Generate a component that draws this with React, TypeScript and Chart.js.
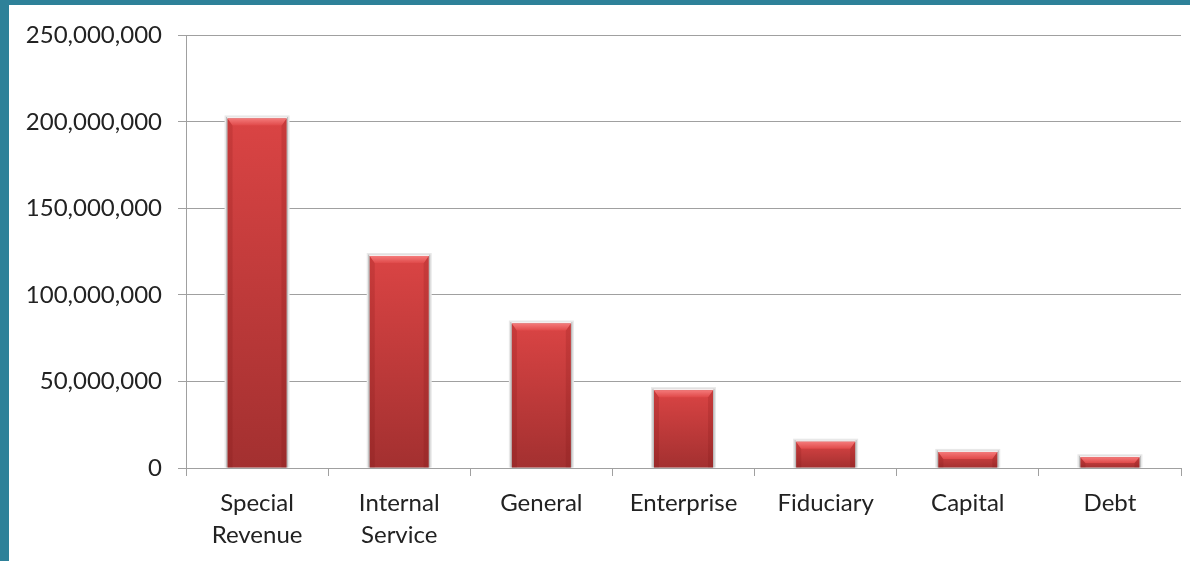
import React, { useEffect, useRef } from "react";
import { Chart, registerables } from "chart.js";

Chart.register(...registerables);

// Fund categories (multi-line labels as arrays)
const categories: (string | string[])[] = [
  ["Special", "Revenue"],
  ["Internal", "Service"],
  "General",
  "Enterprise",
  "Fiduciary",
  "Capital",
  "Debt",
];

// Amount per fund
const amounts: number[] = [202000000, 122500000, 83500000, 45000000, 15200000, 9300000, 6200000];

// Value axis
const axisMin = 0;
const axisMax = 250000000;
const axisStep = 50000000;

const FRAME = "#2e8199";
const FONT = "Lato, 'Open Sans', sans-serif";
const TEXT = "#222222";

// Draws the raised "bevel" look around each bar: a grey halo behind,
// a lighter chamfered top face and darker side faces on top.
const bevelPlugin = {
  id: "bevel",
  beforeDatasetsDraw(chart: any) {
    const ctx = chart.ctx;
    chart.getDatasetMeta(0).data.forEach((bar: any) => {
      const { x, y, base, width } = bar.getProps(["x", "y", "base", "width"], true);
      const l = x - width / 2;
      ctx.save();
      ctx.fillStyle = "#e8e8e8";
      ctx.fillRect(l - 3, y - 3, width + 6, base - y + 3);
      ctx.fillStyle = "#bdbdbd";
      ctx.fillRect(l - 1.5, y - 1.5, width + 3, base - y + 1.5);
      ctx.fillStyle = "#f6eeee";
      ctx.fillRect(l - 0.5, y - 1.5, width + 1, 1.5);
      ctx.restore();
    });
  },
  afterDatasetsDraw(chart: any) {
    const ctx = chart.ctx;
    chart.getDatasetMeta(0).data.forEach((bar: any) => {
      const { x, y, base, width } = bar.getProps(["x", "y", "base", "width"], true);
      const l = x - width / 2;
      const r = x + width / 2;
      const h = base - y;
      const b = Math.min(7, h * 0.55);
      const s = Math.min(5, b);
      ctx.save();
      // side faces
      ctx.fillStyle = "rgba(110, 15, 15, 0.16)";
      ctx.beginPath();
      ctx.moveTo(l, y);
      ctx.lineTo(l + s, y + b);
      ctx.lineTo(l + s, base);
      ctx.lineTo(l, base);
      ctx.closePath();
      ctx.fill();
      ctx.beginPath();
      ctx.moveTo(r, y);
      ctx.lineTo(r - s, y + b);
      ctx.lineTo(r - s, base);
      ctx.lineTo(r, base);
      ctx.closePath();
      ctx.fill();
      // top face
      const g = ctx.createLinearGradient(0, y, 0, y + b);
      g.addColorStop(0, "#f47a7a");
      g.addColorStop(1, "#e04a4a");
      ctx.fillStyle = g;
      ctx.beginPath();
      ctx.moveTo(l, y);
      ctx.lineTo(r, y);
      ctx.lineTo(r - s, y + b);
      ctx.lineTo(l + s, y + b);
      ctx.closePath();
      ctx.fill();
      ctx.restore();
    });
  },
};

export default function App() {
  const canvasRef = useRef<HTMLCanvasElement | null>(null);

  useEffect(() => {
    const canvas = canvasRef.current;
    if (!canvas) return;

    const chart = new Chart(canvas, {
      type: "bar",
      data: {
        labels: categories,
        datasets: [
          {
            data: amounts,
            barPercentage: 0.415,
            categoryPercentage: 1,
            borderWidth: 0,
            backgroundColor: (c: any) => {
              const ch = c.chart;
              const yScale = ch.scales && ch.scales.y;
              if (!yScale || c.raw == null) return "#c83c3c";
              const top = yScale.getPixelForValue(c.raw);
              const bottom = yScale.getPixelForValue(0);
              if (!isFinite(top) || !isFinite(bottom) || bottom - top < 1) return "#c83c3c";
              const g = ch.ctx.createLinearGradient(0, top, 0, bottom);
              g.addColorStop(0, "#da4444");
              g.addColorStop(1, "#a33030");
              return g;
            },
          },
        ],
      },
      options: {
        responsive: false,
        animation: false,
        layout: { padding: { top: 30, right: 9, left: 0, bottom: 0 } },
        plugins: {
          legend: { display: false },
          tooltip: { enabled: false },
        },
        scales: {
          x: {
            offset: true,
            grid: {
              display: true,
              offset: true,
              drawOnChartArea: false,
              drawTicks: true,
              tickLength: 8,
              color: "#a0a0a0",
            },
            border: { display: true, color: "#a0a0a0", width: 1 },
            ticks: {
              color: TEXT,
              font: { family: FONT, size: 24, lineHeight: 1.33 },
              padding: 11,
              maxRotation: 0,
              autoSkip: false,
            },
            afterFit: (scale: any) => {
              scale.height = 93;
            },
          },
          y: {
            min: axisMin,
            max: axisMax,
            grid: {
              color: "#a0a0a0",
              tickLength: 8,
              drawTicks: true,
            },
            border: { display: true, color: "#a0a0a0", width: 1 },
            ticks: {
              stepSize: axisStep,
              color: TEXT,
              font: { family: FONT, size: 24 },
              padding: 16,
              callback: (v: any) => Number(v).toLocaleString("en-US"),
            },
            afterFit: (scale: any) => {
              scale.width = 177;
            },
          },
        },
      },
      plugins: [bevelPlugin],
    });

    return () => chart.destroy();
  }, []);

  return (
    <div
      style={{
        position: "fixed",
        left: 0,
        top: 0,
        width: 1190,
        height: 561,
        boxSizing: "border-box",
        background: "#ffffff",
        borderLeft: `9px solid ${FRAME}`,
        borderTop: `5px solid ${FRAME}`,
      }}
    >
      <canvas ref={canvasRef} width={1181} height={556} style={{ display: "block" }} />
    </div>
  );
}
